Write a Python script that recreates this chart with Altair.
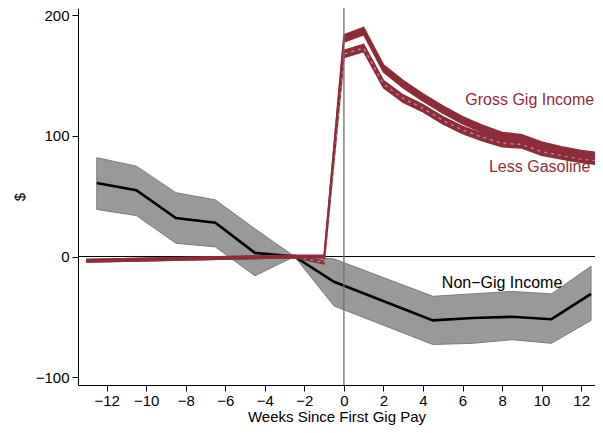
import altair as alt
import pandas as pd

# Non-gig income (point estimate and confidence band)
weeks_nongig = [-12.5, -10.5, -8.5, -6.5, -4.5, -2.5, -0.5, 4.5, 6.5, 8.5, 10.5, 12.5]
nongig = [61, 55, 32, 28, 3, 0, -21, -53, -51, -50, -52, -31]
nongig_lo = [39, 34, 11, 8, -16, 0, -41, -73, -72, -69, -72, -53]
nongig_hi = [82, 75, 53, 47, 23, 0, -2, -33, -31, -29, -31, -8]

# Gig income series
weeks_gig = [-13, -2.5, -1, 0, 1, 2, 3, 4, 5, 6, 7, 8, 9, 10, 11, 12, 13]
gross = [-3.5, 0, 0, 181, 187, 156, 143, 132, 122, 113, 106, 100, 98, 92, 88, 85, 83]
gross_lo = [-4.5, -1, -1, 178, 184, 153, 140, 129, 119, 110, 103, 97, 95, 89, 85, 82, 80]
gross_hi = [-2.5, 1, 1, 184, 190, 159, 146, 135, 125, 116, 109, 103, 101, 95, 91, 88, 86]
less = [-3.5, 0, -5, 168, 173, 143, 131, 123, 113, 105, 99, 94, 93, 87, 84, 81, 79]
less_lo = [-4.5, -1, -6, 165, 170, 140, 128, 120, 110, 102, 96, 91, 90, 84, 81, 78, 76]
less_hi = [-2.5, 1, -4, 171, 176, 146, 134, 126, 116, 108, 102, 97, 96, 90, 87, 84, 82]

x_ticks = [-12, -10, -8, -6, -4, -2, 0, 2, 4, 6, 8, 10, 12]
y_ticks = [-100, 0, 100, 200]

labels_text = ["Gross Gig Income", "Less Gasoline", "Non\u2212Gig Income"]
labels_x = [9.4, 9.9, 8.0]
labels_y = [130, 74.5, -22]
labels_color = ["#8E2C3A", "#8E2C3A", "#000000"]

RED = "#8E2C3A"
FONT = "Liberation Sans"

ng = pd.DataFrame({"w": weeks_nongig, "v": nongig, "lo": nongig_lo, "hi": nongig_hi})
gg = pd.DataFrame({"w": weeks_gig, "v": gross, "lo": gross_lo, "hi": gross_hi})
lg = pd.DataFrame({"w": weeks_gig, "v": less, "lo": less_lo, "hi": less_hi})
lab = pd.DataFrame({"t": labels_text, "x": labels_x, "y": labels_y, "c": labels_color})

xs = alt.Scale(domain=[-13.45, 12.7], nice=False, zero=False)
ys = alt.Scale(domain=[-106.6, 206.2], nice=False, zero=False)

X = alt.X("w:Q", scale=xs, axis=alt.Axis(values=x_ticks, title="Weeks Since First Gig Pay"))
Y = alt.Y("v:Q", scale=ys, axis=alt.Axis(values=y_ticks, title="$"))

band_ng = alt.Chart(ng).mark_area(color="#999999", stroke="#7a7a7a", strokeWidth=1, clip=True).encode(
    x=X, y=alt.Y("lo:Q", scale=ys, axis=alt.Axis(values=y_ticks, title="$")), y2="hi:Q")
line_ng = alt.Chart(ng).mark_line(color="black", strokeWidth=2.6, clip=True).encode(x=X, y=Y)

zero = alt.Chart(pd.DataFrame({"v": [0]})).mark_rule(color="black", strokeWidth=1).encode(y=alt.Y("v:Q", scale=ys))
vline = alt.Chart(pd.DataFrame({"w": [0]})).mark_rule(color="#707070", strokeWidth=1.3).encode(x=alt.X("w:Q", scale=xs))

band_g = alt.Chart(gg).mark_area(color=RED, stroke=RED, strokeWidth=1.5, clip=True).encode(
    x=X, y=alt.Y("lo:Q", scale=ys), y2="hi:Q")
line_g = alt.Chart(gg).mark_line(color=RED, strokeWidth=1.5, clip=True).encode(x=X, y=Y)
band_l = alt.Chart(lg).mark_area(color=RED, stroke=RED, strokeWidth=1.5, clip=True).encode(
    x=X, y=alt.Y("lo:Q", scale=ys), y2="hi:Q")
line_l = alt.Chart(lg).mark_line(color="#b9868c", strokeWidth=1.5, strokeDash=[3, 4], clip=True).encode(x=X, y=Y)

text = alt.Chart(lab).mark_text(font=FONT, fontSize=16, align="center", baseline="middle").encode(
    x=alt.X("x:Q", scale=xs), y=alt.Y("y:Q", scale=ys), text="t:N",
    color=alt.Color("c:N", scale=None))

chart = alt.layer(band_ng, line_ng, zero, band_l, line_l, band_g, line_g, vline, text).properties(
    width=517, height=377,
    autosize=alt.AutoSizeParams(type="none"),
    padding={"left": 70, "top": 0, "right": 0, "bottom": 40},
).configure_view(stroke=None).configure_axis(
    grid=False, domainColor="black", tickColor="black", labelColor="black", titleColor="black",
    labelFont=FONT, titleFont=FONT, labelFontSize=15, titleFontSize=15, titleFontWeight="normal",
    tickSize=6, labelPadding=3, domainWidth=1, tickWidth=1,
).configure_axisX(titlePadding=1, labelPadding=2).configure_axisY(titlePadding=8, labelAngle=0)

chart.save("out.html", embed_options={"renderer": "svg", "actions": False})
